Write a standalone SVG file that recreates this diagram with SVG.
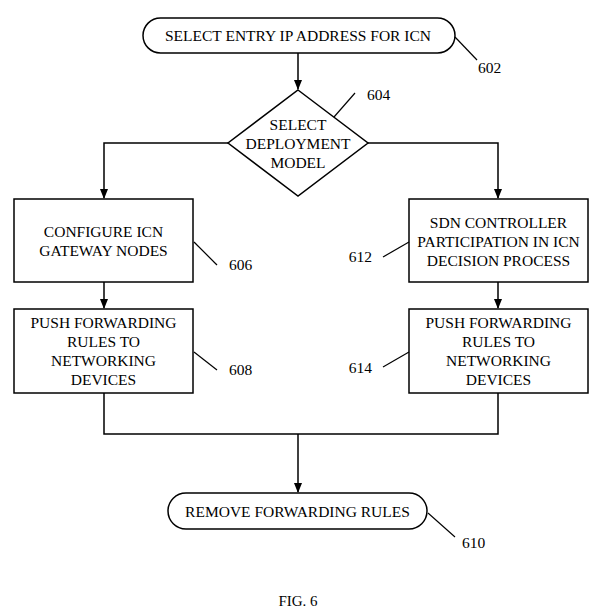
<svg xmlns="http://www.w3.org/2000/svg" width="597" height="612" viewBox="0 0 597 612">
<style>
text{font-size:15.5px;fill:#000;text-anchor:middle}
.lbl{text-anchor:start}
.lblr{text-anchor:end}
.shape{fill:#fff;stroke:#000;stroke-width:1.5}
.conn{fill:none;stroke:#000;stroke-width:1.5}
.lead{fill:none;stroke:#000;stroke-width:1.2}
</style>
<defs>
<marker id="arr" markerWidth="10" markerHeight="8" refX="9" refY="4" orient="auto" markerUnits="userSpaceOnUse">
<path d="M0,0 L10,4 L0,8 Z" fill="#000"/>
</marker>
</defs>
<rect width="597" height="612" fill="#fff"/>
<g font-family="Liberation Serif, Times New Roman, serif">
<g id="connectors">
<line class="conn" x1="298" y1="53" x2="298" y2="89" marker-end="url(#arr)"/>
<polyline class="conn" points="228,143 104,143 104,198" marker-end="url(#arr)"/>
<polyline class="conn" points="368,143 498,143 498,198" marker-end="url(#arr)"/>
<line class="conn" x1="104" y1="282" x2="104" y2="308" marker-end="url(#arr)"/>
<line class="conn" x1="498" y1="282" x2="498" y2="308" marker-end="url(#arr)"/>
<polyline class="conn" points="104,393 104,434 498,434 498,393"/>
<line class="conn" x1="298" y1="434" x2="298" y2="492" marker-end="url(#arr)"/>
</g>
<g id="n602">
<rect class="shape" x="143" y="18" width="312" height="35" rx="17.5"/>
<text x="298" y="41">SELECT ENTRY IP ADDRESS FOR ICN</text>
<line class="lead" x1="455" y1="37" x2="477" y2="60"/>
<text class="lbl" x="478" y="73">602</text>
</g>
<g id="n604">
<polygon class="shape" points="298,90 368,143 298,196 228,143"/>
<text x="298" y="130">SELECT</text>
<text x="298" y="149">DEPLOYMENT</text>
<text x="298" y="168">MODEL</text>
<line class="lead" x1="334" y1="117" x2="355" y2="93"/>
<text class="lbl" x="367" y="100">604</text>
</g>
<g id="n606">
<rect class="shape" x="14" y="199" width="179" height="83"/>
<text x="103.5" y="237">CONFIGURE ICN</text>
<text x="103.5" y="256">GATEWAY NODES</text>
<line class="lead" x1="194" y1="242" x2="217" y2="265"/>
<text class="lbl" x="229" y="270">606</text>
</g>
<g id="n608">
<rect class="shape" x="14" y="309" width="179" height="84"/>
<text x="103.5" y="328">PUSH FORWARDING</text>
<text x="103.5" y="347">RULES TO</text>
<text x="103.5" y="366">NETWORKING</text>
<text x="103.5" y="385">DEVICES</text>
<line class="lead" x1="194" y1="352" x2="217" y2="370"/>
<text class="lbl" x="229" y="375">608</text>
</g>
<g id="n612">
<rect class="shape" x="409" y="199" width="179" height="83"/>
<text x="498.5" y="228">SDN CONTROLLER</text>
<text x="498.5" y="247">PARTICIPATION IN ICN</text>
<text x="498.5" y="266">DECISION PROCESS</text>
<line class="lead" x1="409" y1="242" x2="383" y2="257"/>
<text class="lblr" x="372" y="262">612</text>
</g>
<g id="n614">
<rect class="shape" x="409" y="309" width="179" height="84"/>
<text x="498.5" y="328">PUSH FORWARDING</text>
<text x="498.5" y="347">RULES TO</text>
<text x="498.5" y="366">NETWORKING</text>
<text x="498.5" y="385">DEVICES</text>
<line class="lead" x1="409" y1="352" x2="383" y2="367"/>
<text class="lblr" x="372" y="373">614</text>
</g>
<g id="n610">
<rect class="shape" x="168" y="493" width="259" height="36" rx="18"/>
<text x="297.5" y="517">REMOVE FORWARDING RULES</text>
<line class="lead" x1="428" y1="513" x2="455" y2="537"/>
<text class="lbl" x="462" y="548">610</text>
</g>
<text x="298" y="606" style="font-size:15px">FIG. 6</text>
</g>
</svg>
